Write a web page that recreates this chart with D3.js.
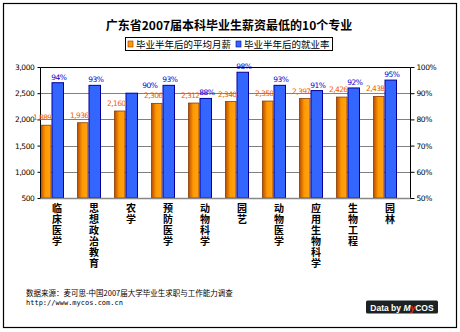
<!DOCTYPE html>
<html><head><meta charset="utf-8">
<script src="https://cdn.jsdelivr.net/npm/d3@7"></script>
<style>body{margin:0;background:#fff}svg{display:block}</style>
</head><body>
<script>
const categories = ["临床医学","思想政治教育","农学","预防医学","动物科学","园艺","动物医学","应用生物科学","生物工程","园林"];
const salary = [1889,1936,2160,2306,2312,2340,2350,2397,2426,2438];
const employment = [94,93,90,93,88,98,93,91,92,95];
const salaryTicks = [500,1000,1500,2000,2500,3000];
const rateTicks = [50,60,70,80,90,100];
const seriesNames = ["毕业半年后的平均月薪","毕业半年后的就业率"];

const W=460,H=332;
const svg=d3.select("body").append("svg").attr("width",W).attr("height",H);
const cjk='"Noto Sans CJK SC", sans-serif';
const num="Tahoma, 'DejaVu Sans', sans-serif";

svg.append("rect").attr("x",3.5).attr("y",3.5).attr("width",453).attr("height",324)
  .attr("fill","#fff").attr("stroke","#000").attr("stroke-width",1.2);

const defs=svg.append("defs");
const g1=defs.append("linearGradient").attr("id","og").attr("x1",0).attr("x2",1).attr("y1",0).attr("y2",0);
g1.append("stop").attr("offset","0%").attr("stop-color","#b84a00");
g1.append("stop").attr("offset","25%").attr("stop-color","#e07800");
g1.append("stop").attr("offset","45%").attr("stop-color","#ff9900");
g1.append("stop").attr("offset","100%").attr("stop-color","#ffa21a");

svg.append("text").attr("x",229).attr("y",30).attr("text-anchor","middle")
  .attr("font-family",cjk).attr("font-weight","bold").attr("font-size",12)
  .text("广东省2007届本科毕业生薪资最低的10个专业");

// legend
svg.append("rect").attr("x",125.5).attr("y",37.5).attr("width",207).attr("height",13)
  .attr("fill","#fff").attr("stroke","#000");
const leg=[{c:"#ff9900",s:"#993300",x:128,t:seriesNames[0]},{c:"#3366ff",s:"#000099",x:236,t:seriesNames[1]}];
leg.forEach(d=>{
  svg.append("rect").attr("x",d.x).attr("y",41).attr("width",5).attr("height",6).attr("fill",d.c).attr("stroke",d.s).attr("stroke-width",0.6);
  svg.append("text").attr("x",d.x+8).attr("y",48).attr("font-family",cjk).attr("font-size",9.5).text(d.t);
});

const x0=40,x1=410,yTop=67,yBot=198;
const x=d3.scaleBand().domain(categories).range([x0,x1]).paddingInner(0).paddingOuter(0);
const ySal=d3.scaleLinear().domain([500,3000]).range([yBot,yTop]);
const yRate=d3.scaleLinear().domain([50,100]).range([yBot,yTop]);
const bw=11.5;

// grid
svg.append("g").selectAll("line").data(salaryTicks.slice(1,-1)).join("line")
  .attr("x1",x0).attr("x2",x1).attr("y1",d=>Math.round(ySal(d))+0.5).attr("y2",d=>Math.round(ySal(d))+0.5)
  .attr("stroke","#808080").attr("stroke-width",1);

// bars
const gb=svg.append("g");
gb.selectAll("rect.o").data(salary).join("rect").attr("class","o")
  .attr("x",(d,i)=>x(categories[i])+0.5).attr("width",bw-1)
  .attr("y",d=>ySal(d)).attr("height",d=>yBot-ySal(d))
  .attr("fill","url(#og)").attr("stroke","#8a3a00").attr("stroke-width",0.8);
gb.selectAll("rect.b").data(employment).join("rect").attr("class","b")
  .attr("x",(d,i)=>x(categories[i])+bw+0.5).attr("width",bw)
  .attr("y",d=>yRate(d)).attr("height",d=>yBot-yRate(d))
  .attr("fill","#3366ff").attr("stroke","#000099").attr("stroke-width",1);

// frame
svg.append("path").attr("d",`M${x0+0.5},${yBot}V${yTop+0.5}H${x1+0.5}V${yBot}`).attr("fill","none").attr("stroke","#000").attr("stroke-width",1);
svg.append("line").attr("x1",x0).attr("x2",x1+1).attr("y1",yBot+0.5).attr("y2",yBot+0.5).attr("stroke","#888").attr("stroke-width",1.5);

// axes
const axL=d3.axisLeft(ySal).tickValues(salaryTicks).tickSize(3).tickFormat(d3.format(","));
const gL=svg.append("g").attr("transform",`translate(${x0+0.5},0)`).call(axL);
gL.select(".domain").remove();
gL.selectAll("text").attr("font-family",num).attr("font-size",7.5).attr("fill","#000").attr("x",-6).attr("letter-spacing",-0.4);
gL.selectAll("line").attr("stroke","#000");
const axR=d3.axisRight(yRate).tickValues(rateTicks).tickSize(4).tickFormat(d=>d+"%");
const gR=svg.append("g").attr("transform",`translate(${x1+0.5},0)`).call(axR);
gR.select(".domain").remove();
gR.selectAll("text").attr("font-family",num).attr("font-size",7.5).attr("fill","#000").attr("x",6).attr("letter-spacing",-0.4);
gR.selectAll("line").attr("stroke","#000");

// value labels
const fmt=d3.format(",");
svg.append("g").selectAll("text").data(salary).join("text")
  .attr("x",(d,i)=>x(categories[i])+bw/2-3.5).attr("y",d=>ySal(d)-5)
  .attr("text-anchor","middle").attr("font-family",num).attr("font-size",7.5).attr("letter-spacing",-0.6)
  .attr("fill","#f06000").text(d=>fmt(d));
const rateDx=[0,0,17,0,0,0,0,0,0,0];
svg.append("g").selectAll("text").data(employment).join("text")
  .attr("x",(d,i)=>x(categories[i])+bw*1.5+1.5+rateDx[i]).attr("y",(d,i)=>yRate(d)-3-(rateDx[i]?2:0))
  .attr("text-anchor","middle").attr("font-family",num).attr("font-size",7.5).attr("letter-spacing",-0.6)
  .attr("fill","#0000cc").text(d=>d+"%");

// category labels (vertical writing mode)
svg.append("g").selectAll("text").data(categories).join("text")
  .attr("x",d=>x(d)+x.bandwidth()/2-1.5).attr("y",203)
  .style("writing-mode","vertical-rl").attr("letter-spacing",1)
  .attr("font-family",cjk).attr("font-weight","bold").attr("font-size",10).text(d=>d);

// footer
svg.append("text").attr("x",26).attr("y",296).attr("font-family",cjk).attr("font-size",7.5)
  .text("数据来源：麦可思-中国2007届大学毕业生求职与工作能力调查");
svg.append("text").attr("x",26).attr("y",305).attr("font-family","'DejaVu Sans Mono', monospace").attr("font-size",7)
  .text("http://www.mycos.com.cn");
svg.append("rect").attr("x",366).attr("y",300.5).attr("width",72).attr("height",13).attr("rx",1.5).attr("fill","#1c2224");
const lt=svg.append("text").attr("x",402).attr("y",310.5).attr("text-anchor","middle").attr("font-family","Arial, 'Liberation Sans', sans-serif").attr("font-weight","bold").attr("font-size",8.5).attr("fill","#fff");
lt.append("tspan").text("Data by ");
lt.append("tspan").attr("font-style","italic").text("M");
lt.append("tspan").attr("fill","#e03020").attr("font-style","italic").text("y");
lt.append("tspan").text("COS");
</script>
</body></html>
